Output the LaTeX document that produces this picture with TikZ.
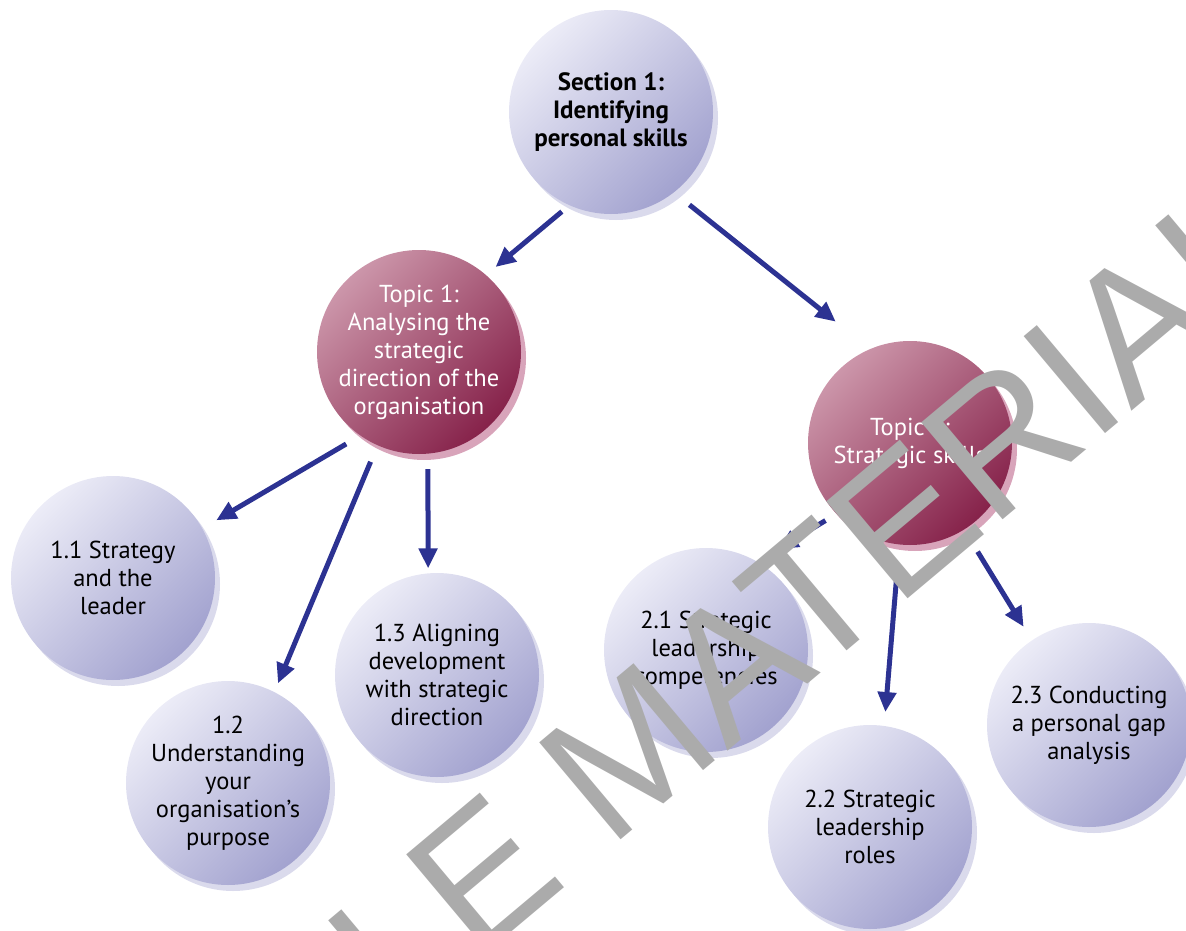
\documentclass[tikz,border=0pt]{standalone}
\usepackage{fontspec}
\setmainfont{PT Sans}
\newfontfamily\marcafont{Liberation Sans}
\usepackage{tikz}
\usetikzlibrary{arrows.meta,shadows}
\definecolor{azulclaro}{RGB}{236,236,247}
\definecolor{azuloscuro}{RGB}{162,162,207}
\definecolor{azulsombra}{RGB}{218,218,236}
\definecolor{granateclaro}{RGB}{204,150,170}
\definecolor{granateoscuro}{RGB}{134,34,74}
\definecolor{granatesombra}{RGB}{216,164,186}
\definecolor{marino}{RGB}{44,50,146}
\definecolor{marca}{RGB}{171,171,171}
\tikzstyle{ball} =[circle, minimum size=204pt, inner sep=-16pt, outer sep=0pt, align=center, font=\fontsize{24.5}{28}\selectfont]
\tikzstyle{unitball} =[ball, top color=azulclaro, bottom color=azuloscuro, shading angle=45, drop shadow={shadow xshift=5pt, shadow yshift=-6pt, fill=azulsombra, opacity=1}]
\tikzstyle{sectionball} =[unitball, font=\bfseries\fontsize{25}{28}\selectfont]
\tikzstyle{topicball} =[ball, top color=granateclaro, bottom color=granateoscuro, shading angle=45, text=white, drop shadow={shadow xshift=5pt, shadow yshift=-6pt, fill=granatesombra, opacity=1}]
\tikzstyle{link} =[draw=marino, line width=5pt, -{Triangle[length=20pt, width=18pt]}]
\tikzstyle{watermark} =[text=marca, rotate=40, anchor=base west, inner sep=0pt, font=\marcafont\fontsize{184}{184}\selectfont]

\begin{document}
\begin{tikzpicture}[x=1pt, y=-1pt]
		\useasboundingbox (0,0) rectangle (1186,931);
		\clip (0,0) rectangle (1186,931);
		\node[sectionball](sec) at (611,112) {Section 1:\\Identifying\\personal skills};
		\node[topicball](t1) at (419,352) {Topic 1:\\Analysing the\\strategic\\direction of the\\organisation};
		\node[topicball](t2) at (910,443) {Topic 2:\\Strategic skills};
		\node[unitball](u11) at (113,578) {1.1 Strategy\\and the\\leader};
		\node[unitball](u12) at (228,783) {1.2\\Understanding\\your\\organisation’s\\purpose};
		\node[unitball](u13) at (437,675) {1.3 Aligning\\development\\with strategic\\direction};
		\node[unitball](u21) at (706,650) {2.1 Strategic\\leadership\\competencies};
		\node[unitball](u22) at (870,827) {2.2 Strategic\\leadership\\roles};
		\node[unitball](u23) at (1089,725) {2.3 Conducting\\a personal gap\\analysis};
		\draw[link, shorten <=10pt, shorten >=12.5pt] (sec.246.7) -- (t1.49.1);
		\draw[link, shorten <=20pt, shorten >=44pt] (sec.308.6) -- (t2.113.7);
		\draw[link, shorten <=16.6pt, shorten >=16.3pt] (t1.235.3) -- (u11.29.4);
		\draw[link, shorten <=18pt, shorten >=9.5pt] (t1.246.7) -- (u12.63.7);
		\draw[link, shorten <=15.5pt, shorten >=5pt] (t1.275.6) -- (u13.95.7);
		\draw[link, shorten <=13pt, shorten >=24.7pt] (t2.224.3) -- (u21.60.2);
		\draw[link, shorten <=20.6pt, shorten >=14pt] (t2.264) -- (u22.82.2);
		\draw[link, shorten <=26pt, shorten >=16pt] (t2.302) -- (u23.124.4);
		\node[watermark](sample) at (-1.3,1362.6) {SAMPLE MATERIAL};
	\end{tikzpicture}
\end{document}
